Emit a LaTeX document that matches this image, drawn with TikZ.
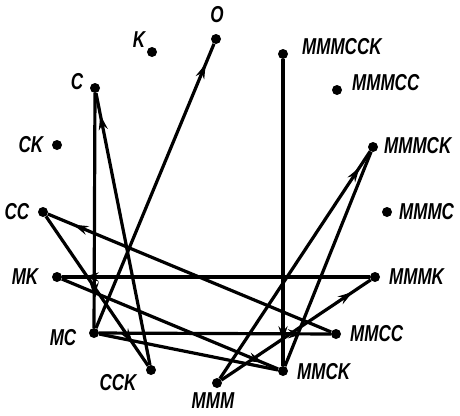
\documentclass[tikz,border=0pt]{standalone}
\usepackage{fontspec}
\setmainfont{Liberation Sans}[ItalicFeatures={FakeStretch=0.74},BoldItalicFeatures={FakeStretch=0.74}]
\usetikzlibrary{arrows.meta,decorations.markings}
\begin{document}
\begin{tikzpicture}[x=1pt,y=-1pt,
  dot/.style={circle,fill=black,inner sep=0pt,minimum size=10pt},
  lbl/.style={font=\fontsize{23}{23}\selectfont\bfseries\itshape,inner sep=0pt},
  edge/.style={line width=3.2pt},
  arr/.style={edge,postaction={decorate},decoration={markings,mark=at position #1 with {\arrow{Stealth[length=15pt,width=9pt]}}}}]
\useasboundingbox (0,0) rectangle (460,415);
% vertices
\node[dot] (O) at (216,39) {};
\node[dot] (K) at (152,52) {};
\node[dot] (C) at (95,88) {};
\node[dot] (CK) at (57,145) {};
\node[dot] (CC) at (43,212) {};
\node[dot] (MK) at (57,277) {};
\node[dot] (MC) at (94,333) {};
\node[dot] (CCK) at (151,370) {};
\node[dot] (MMM) at (217,383) {};
\node[dot] (MMCK) at (283,371) {};
\node[dot] (MMCC) at (336,334) {};
\node[dot] (MMMK) at (375,277) {};
\node[dot] (MMMC) at (387,212) {};
\node[dot] (MMMCK) at (373,147) {};
\node[dot] (MMMCC) at (337,90) {};
\node[dot] (MMMCCK) at (283,54) {};
% labels
\node[lbl] (lO) at (217,15) {O};
\node[lbl] (lK) at (139,40) {K};
\node[lbl] (lC) at (77,82) {C};
\node[lbl] (lCK) at (31,145) {CK};
\node[lbl] (lCC) at (17,212) {CC};
\node[lbl] (lMK) at (25,277) {MK};
\node[lbl] (lMC) at (63,338) {MC};
\node[lbl] (lCCK) at (118,383) {CCK};
\node[lbl] (lMMM) at (213,401) {MMM};
\node[lbl,anchor=west] (lMMCK) at (297,372) {MMCK};
\node[lbl,anchor=west] (lMMCC) at (350,334) {MMCC};
\node[lbl,anchor=west] (lMMMK) at (389,277) {MMMK};
\node[lbl,anchor=west] (lMMMC) at (399,212) {MMMC};
\node[lbl,anchor=west] (lMMMCK) at (384,146) {MMMCK};
\node[lbl,anchor=west] (lMMMCC) at (352,83) {MMMCC};
\node[lbl,anchor=west] (lMMMCCK) at (302,47) {MMMCCK};
% edges
\draw[arr=0.93] (MC) -- (O);
\draw[arr=0.92] (CCK) -- (C);
\draw[arr=0.87] (C) -- (MC);
\draw[arr=0.92] (MMMCCK) -- (MMCK);
\draw[arr=0.93] (MMM) -- (MMMCK);
\draw[edge] (MMCK) -- (MMMCK);
\draw[arr=0.88] (MMM) -- (MMMK);
\draw[arr=0.93] (MMMK) -- (MK);
\draw[arr=0.91] (MMCC) -- (CC);
\draw[arr=0.85] (CC) -- (CCK);
\draw[arr=0.93] (MK) -- (MMCK);
\draw[arr=0.88] (MC) -- (MMCC);
\draw[edge] (MC) -- (MMCK);
\end{tikzpicture}
\end{document}
